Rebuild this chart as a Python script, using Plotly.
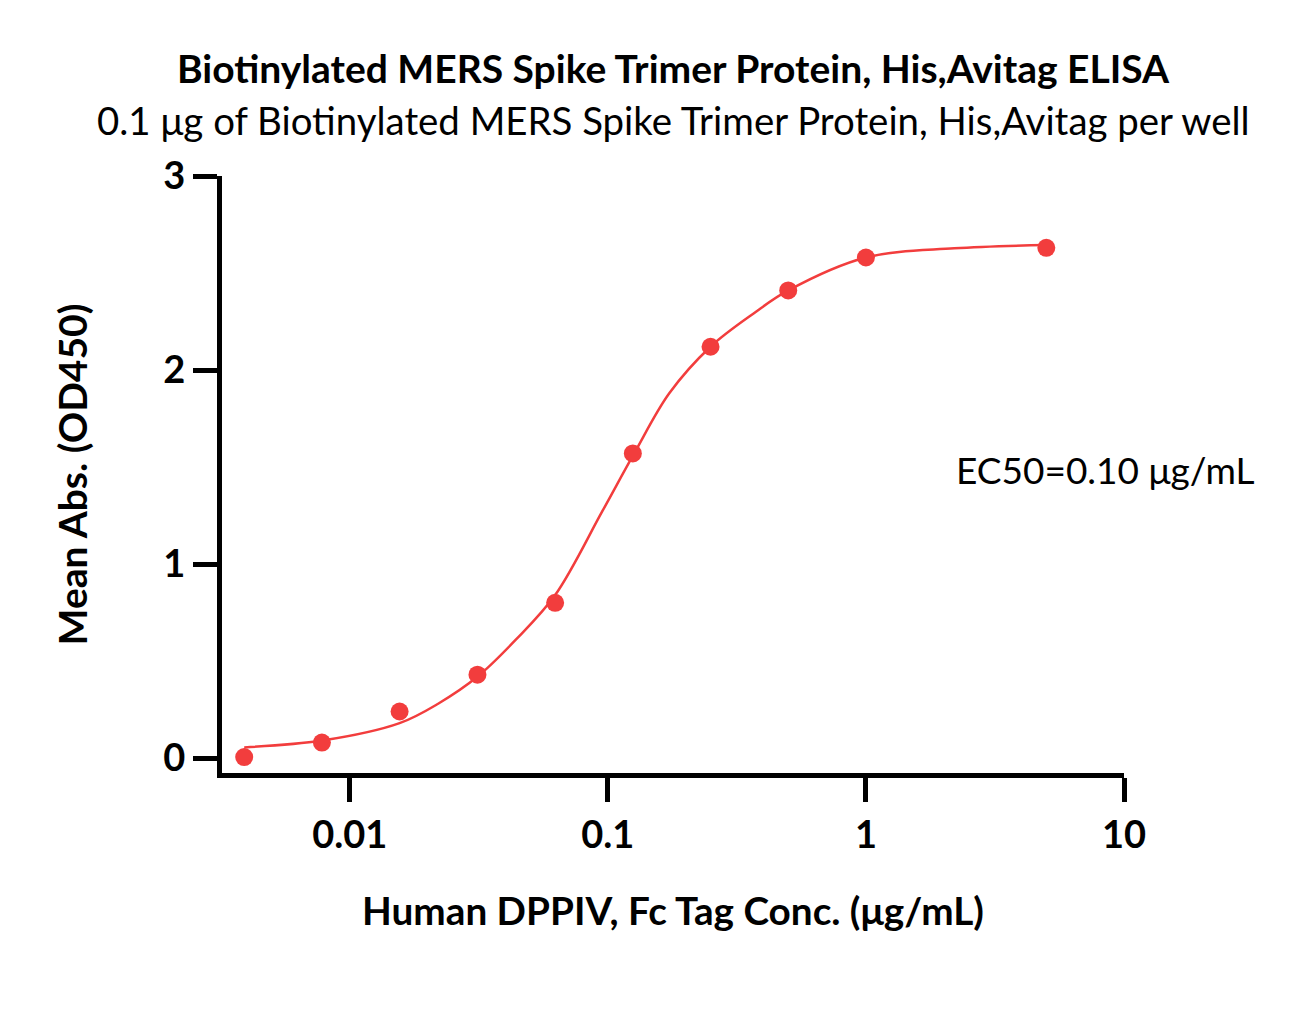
import plotly.graph_objects as go

# measured points (conc in ug/mL, mean OD450)
conc = [0.0039, 0.0078, 0.0156, 0.03125, 0.0625, 0.125, 0.25, 0.5, 1.0, 5.0]
od450 = [0.005, 0.08, 0.24, 0.43, 0.80, 1.57, 2.12, 2.41, 2.58, 2.63]

# fitted curve
fit_conc = [0.0039, 0.0078, 0.0156, 0.022, 0.0313, 0.044, 0.0625, 0.095,
            0.1265, 0.173, 0.25, 0.366, 0.5, 1.0, 2.2, 5.0]
fit_od = [0.055, 0.09, 0.18, 0.28, 0.42, 0.61, 0.84, 1.27,
          1.57, 1.88, 2.12, 2.29, 2.41, 2.58, 2.627, 2.644]

red = "#F23D3D"
font = "Lato"

fig = go.Figure()
fig.add_trace(go.Scatter(x=fit_conc, y=fit_od, mode="lines",
                         line=dict(color=red, width=2.5, shape="spline"),
                         showlegend=False))
fig.add_trace(go.Scatter(x=conc, y=od450, mode="markers",
                         marker=dict(color=red, size=18),
                         showlegend=False))

# page body has an 8px margin, so margins are shifted by 8
fig.update_layout(
    width=1295, height=1032,
    paper_bgcolor="white", plot_bgcolor="white",
    margin=dict(l=214, r=179, t=168, b=267),
    font=dict(family=font, color="black"),
    annotations=[
        dict(text="<b>Biotinylated MERS Spike Trimer Protein, His,Avitag ELISA</b>",
             xref="paper", yref="paper", x=0.5, y=1, yshift=108, yanchor="middle",
             showarrow=False, font=dict(size=39)),
        dict(text="0.1 μg of Biotinylated MERS Spike Trimer Protein, His,Avitag per well",
             xref="paper", yref="paper", x=0.5, y=1, yshift=56, yanchor="middle",
             showarrow=False, font=dict(size=38.4)),
        dict(text="EC50=0.10 μg/mL", xref="paper", yref="paper",
             x=0.812, y=0.509, xanchor="left", showarrow=False,
             font=dict(size=37)),
    ],
)
fig.update_xaxes(type="log", range=[-2.495, 1],
                 tickvals=[0.01, 0.1, 1, 10], ticktext=["0.01", "0.1", "1", "10"],
                 showline=True, linewidth=5, linecolor="black",
                 ticks="outside", ticklen=24, tickwidth=5, tickcolor="black",
                 tickfont=dict(size=38, family=font, weight="bold"),
                 showgrid=False, zeroline=False,
                 title=dict(text="<b>Human DPPIV, Fc Tag Conc. (μg/mL)</b>",
                            font=dict(size=38.7), standoff=45))
fig.update_yaxes(range=[-0.077, 3], tickvals=[0, 1, 2, 3],
                 showline=True, linewidth=5, linecolor="black",
                 ticks="outside", ticklen=24, tickwidth=5, tickcolor="black",
                 tickfont=dict(size=38, family=font, weight="bold"),
                 showgrid=False, zeroline=False,
                 title=dict(text="<b>Mean Abs. (OD450)</b>", font=dict(size=39), standoff=65))

fig.write_html("out.html")
